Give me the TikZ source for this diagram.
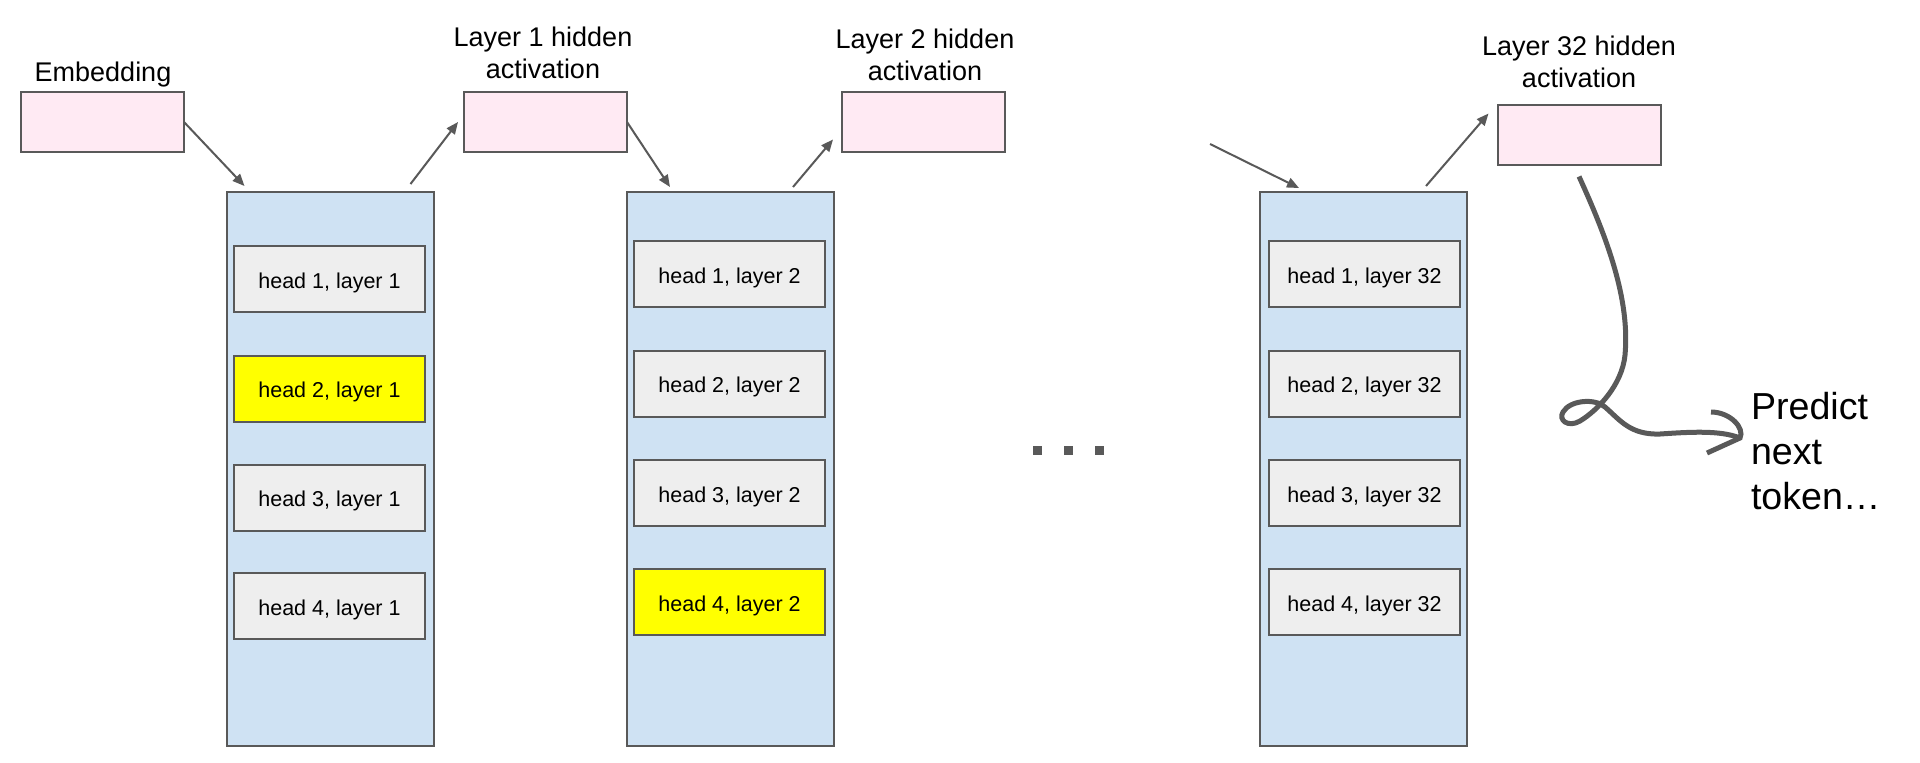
\documentclass[tikz,border=0pt]{standalone}
\usepackage{fontspec}
\setmainfont{Liberation Sans}
\usetikzlibrary{arrows.meta,calc}
\definecolor{edge}{HTML}{595959}
\definecolor{pinkfill}{HTML}{FFEAF3}
\definecolor{bluefill}{HTML}{CFE2F3}
\definecolor{headfill}{HTML}{EEEEEE}
\definecolor{hl}{HTML}{FFFF00}
\begin{document}
\begin{tikzpicture}[x=0.5pt,y=-0.5pt,
 every node/.style={inner sep=0pt, outer sep=0pt},
 pinkbox/.style={draw=edge, line width=1pt, fill=pinkfill, minimum width=81.5pt, minimum height=30pt},
 colbox/.style={draw=edge, line width=1pt, fill=bluefill, minimum width=103.5pt, minimum height=277pt},
 headbox/.style={draw=edge, line width=1pt, fill=headfill, minimum width=95.5pt, minimum height=33pt, text height=9pt, text depth=0pt, font=\fontsize{10.75}{13}\selectfont},
 hlbox/.style={headbox, fill=hl},
 lbl/.style={font=\fontsize{13.5}{16}\selectfont, align=center},
 predtxt/.style={font=\fontsize{18.8}{22}\selectfont, anchor=base west},
 conn/.style={draw=edge, line width=1pt, -{Triangle[length=6pt,width=5pt]}},
 squig/.style={draw=edge, line width=2.5pt},
 dot/.style={fill=edge},
]
\fill[white] (0,0) rectangle (1920,762);
\useasboundingbox (0,0) rectangle (1920,762);

% hidden activation boxes
\node[pinkbox] (emb) at (102.5,122) {};
\node[pinkbox] (l1) at (545.5,122) {};
\node[pinkbox] (l2) at (923.5,121.5) {};
\node[pinkbox] (l32) at (1579,134.5) {};

\node[lbl, anchor=base] (embl) at (103,81) {Embedding};
\node[lbl, anchor=south] (l1l) at (543,79) {Layer 1 hidden\\activation};
\node[lbl, anchor=south] (l2l) at (925,81) {Layer 2 hidden\\activation};
\node[lbl, anchor=south] (l32l) at (1579,88) {Layer 32 hidden\\activation};

% layer columns
\node[colbox] (c1) at (330,469) {};
\node[colbox] (c2) at (730.5,469) {};
\node[colbox] (c3) at (1363.5,469) {};

% heads, layer 1
\node[headbox] (h11) at (329.5,279) {head 1, layer 1};
\node[hlbox]   (h21) at (329.5,388.5) {head 2, layer 1};
\node[headbox] (h31) at (329.5,497.5) {head 3, layer 1};
\node[headbox] (h41) at (329.5,606) {head 4, layer 1};
% heads, layer 2
\node[headbox] (h12) at (729.5,274) {head 1, layer 2};
\node[headbox] (h22) at (729.5,383.5) {head 2, layer 2};
\node[headbox] (h32) at (729.5,493) {head 3, layer 2};
\node[hlbox]   (h42) at (729.5,602) {head 4, layer 2};
% heads, layer 32
\node[headbox] (h132) at (1364.5,274) {head 1, layer 32};
\node[headbox] (h232) at (1364.5,383.5) {head 2, layer 32};
\node[headbox] (h332) at (1364.5,493) {head 3, layer 32};
\node[headbox] (h432) at (1364.5,602) {head 4, layer 32};

% connectors
\coordinate (free) at (1210,144);
\draw[conn] (emb.east) -- ($(c1.north west)+(18,-6)$);
\draw[conn] ($(c1.north east)+(-23,-8)$) -- ($(l1.west)+(-6,0)$);
\draw[conn] (l1.east) -- ($(c2.north west)+(43,-5)$);
\draw[conn] ($(c2.north east)+(-41,-5)$) -- ($(l2.south west)+(-9,-12)$);
\draw[conn] (free) -- ($(c3.north west)+(39,-4)$);
\draw[conn] ($(c3.north east)+(-41,-6)$) -- ($(l32.north west)+(-9,9)$);

% ellipsis
\fill[dot] (1032.5,445.5) rectangle (1041.5,454.5);
\fill[dot] (1063.5,445.5) rectangle (1072.5,454.5);
\fill[dot] (1094.5,445.5) rectangle (1103.5,454.5);

% prediction text
\node[predtxt] (p1) at (1751,419) {Predict};
\node[predtxt] (p2) at (1751,464) {next};
\node[predtxt] (p3) at (1751,509) {token…};

% squiggly arrow
\coordinate (sqs) at ($(l32.south)+(0,12)$);
\coordinate (sqe) at ($(p1.base west)+(-11,19)$);
\draw[squig] (sqs) .. controls (1608,240) and (1630,300) .. (1625,355)
  .. controls (1622,385) and (1598,410) .. (1580,421)
  .. controls (1568,428) and (1558,420) .. (1563,412)
  .. controls (1570,400) and (1595,398) .. (1605,407)
  .. controls (1620,420) and (1630,435) .. (1660,434)
  .. controls (1690,432) and (1720,430) .. (sqe);
\draw[squig] (1711,412) .. controls (1730,412) and (1745,428) .. (sqe) -- (1707,453);
\end{tikzpicture}
\end{document}
